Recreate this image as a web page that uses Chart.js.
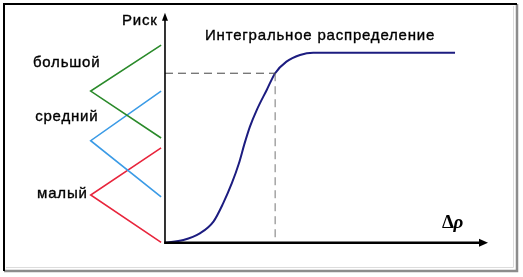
<!DOCTYPE html>
<html><head><meta charset="utf-8">
<script src="https://cdn.jsdelivr.net/npm/chart.js@4"></script>
<style>html,body{margin:0;padding:0;background:#fff}canvas{display:block}</style>
</head><body>
<canvas id="c" width="523" height="277" style="width:523px;height:277px"></canvas>
<script>
// Integral distribution curve (Δρ -> risk)
const curveX = [0, 0.57, 1.08, 1.50, 1.80, 2.07, 2.29, 2.46, 2.63, 2.84, 3.15, 3.41, 3.76, 4.18, 4.59, 5.10, 8.98];
const curveY = [0, 0.014, 0.049, 0.111, 0.207, 0.313, 0.418, 0.52, 0.611, 0.698, 0.804, 0.892, 0.953, 0.988, 1.0, 1.0, 1.0];
// Risk levels (triangular membership functions drawn left of the risk axis)
const levelLabels = ['большой', 'средний', 'малый'];
const levelX = [-0.12, -2.3, -0.12];
const bigY = [1.04, 0.798, 0.551];
const midY = [0.798, 0.537, 0.241];
const smallY = [0.499, 0.251, 0.002];
// Guide point on the curve
const markerX = 3.41, markerY = 0.892;
const xAxisEnd = 10, yAxisEnd = 1.21;
const titleText = 'Интегральное распределение';
const yAxisLabel = 'Риск';

const pts = (xs, ys) => xs.map((x, i) => ({x, y: ys[i]}));

const annot = {
  id: 'annot',
  beforeDatasetsDraw(chart) {
    const ctx = chart.ctx;
    ctx.save();
    // frame
    ctx.strokeStyle = '#dcdcdc'; ctx.lineWidth = 1;
    ctx.beginPath(); ctx.moveTo(513.5, 6); ctx.lineTo(513.5, 267.5); ctx.lineTo(6, 267.5); ctx.stroke();
    ctx.strokeStyle = '#8c8c8c'; ctx.lineWidth = 2.5;
    ctx.beginPath(); ctx.moveTo(517, 4); ctx.lineTo(517, 271); ctx.lineTo(4, 271); ctx.stroke();
    ctx.strokeStyle = '#000'; ctx.lineWidth = 2;
    ctx.beginPath(); ctx.moveTo(4, 271); ctx.lineTo(4, 4); ctx.lineTo(517, 4); ctx.stroke();
    ctx.restore();
  },
  afterDatasetsDraw(chart) {
    const ctx = chart.ctx, xs = chart.scales.x, ys = chart.scales.y;
    const X = v => xs.getPixelForValue(v), Y = v => ys.getPixelForValue(v);
    ctx.save();
    ctx.fillStyle = '#000'; ctx.strokeStyle = '#000';
    // y axis
    const x0 = X(0), y0 = Y(0), yt = Y(yAxisEnd), xe = X(xAxisEnd);
    ctx.lineWidth = 1.6;
    ctx.beginPath(); ctx.moveTo(x0, y0 + 1); ctx.lineTo(x0, yt + 6); ctx.stroke();
    ctx.beginPath(); ctx.moveTo(x0, yt); ctx.lineTo(x0 - 3, yt + 8); ctx.lineTo(x0 + 3, yt + 8); ctx.closePath(); ctx.fill();
    // x axis
    ctx.lineWidth = 2.6;
    ctx.beginPath(); ctx.moveTo(x0 - 0.8, y0); ctx.lineTo(xe - 6, y0); ctx.stroke();
    ctx.beginPath(); ctx.moveTo(xe, y0); ctx.lineTo(xe - 9, y0 - 4); ctx.lineTo(xe - 9, y0 + 4); ctx.closePath(); ctx.fill();
    // texts
    ctx.font = '15px "Liberation Sans", Arial, sans-serif';
    ctx.letterSpacing = '0.8px';
    ctx.textBaseline = 'alphabetic'; ctx.textAlign = 'left';
    ctx.lineWidth = 0.35;
    const txt = (t, x, y) => { ctx.fillText(t, x, y); ctx.strokeText(t, x, y); };
    txt(titleText, X(1.24), Y(1.0668));
    txt(yAxisLabel, X(-1.33), Y(1.146));
    const lx = [-4.09, -4.02, -3.96], ly = [0.925, 0.64, 0.235];
    levelLabels.forEach((t, i) => txt(t, X(lx[i]), Y(ly[i])));
    ctx.letterSpacing = '0px';
    // Δρ
    const bx = X(8.58), by = Y(0.077);
    ctx.font = 'bold 19px "Liberation Serif", "Times New Roman", serif';
    ctx.fillText('Δ', bx, by);
    const w = ctx.measureText('Δ').width;
    ctx.font = 'italic bold 19px "Liberation Serif", "Times New Roman", serif';
    ctx.fillText('ρ', bx + w - 0.5, by);
    ctx.restore();
  }
};

const lineDs = (data, color, width, extra) => Object.assign({
  data, borderColor: color, borderWidth: width, showLine: true, pointRadius: 0,
  tension: 0, fill: false, clip: false
}, extra || {});

new Chart(document.getElementById('c'), {
  type: 'scatter',
  data: {
    datasets: [
      lineDs(pts([0, markerX], [markerY, markerY]), '#444', 1, {borderDash: [8, 5]}),
      lineDs(pts([markerX, markerX], [markerY, 0]), '#777', 1, {borderDash: [8, 5]}),
      lineDs(pts(levelX, bigY), '#2a8a2a', 1.6),
      lineDs(pts(levelX, midY), '#3b9be6', 1.6),
      lineDs(pts(levelX, smallY), '#e8253c', 1.6),
      lineDs(pts(curveX, curveY), '#1c1c80', 2, {cubicInterpolationMode: 'monotone'})
    ]
  },
  options: {
    responsive: false, animation: false,
    layout: {padding: 0, autoPadding: false},
    plugins: {legend: {display: false}, tooltip: {enabled: false}, title: {display: false}},
    scales: {
      x: {type: 'linear', display: false, min: -5.108, max: 11.084},
      y: {type: 'linear', display: false, min: -0.1805, max: 1.2774}
    },
    events: []
  },
  plugins: [annot]
});
</script>
</body></html>
